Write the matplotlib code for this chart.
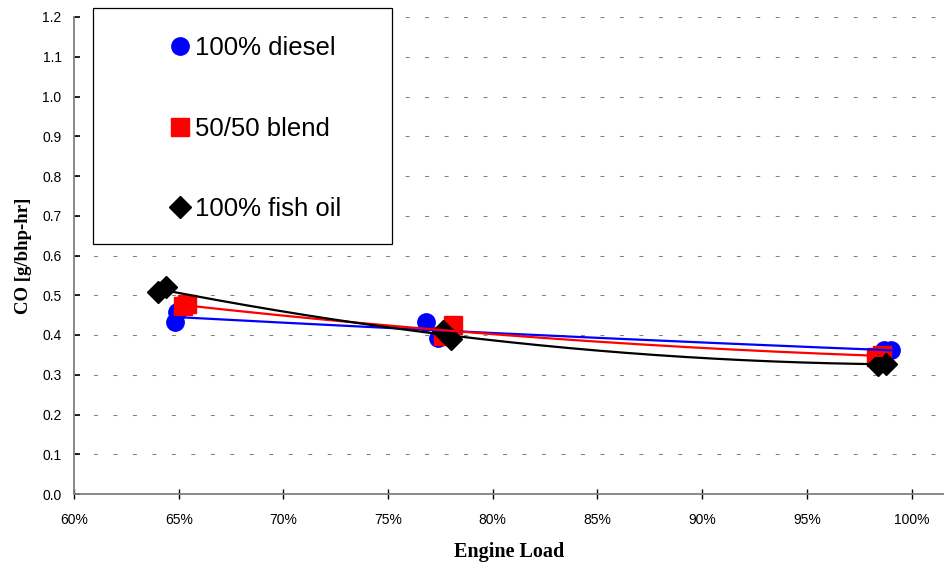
import numpy as np
import matplotlib
matplotlib.use("Agg")
import matplotlib.pyplot as plt
from matplotlib.patches import Rectangle
from matplotlib.ticker import PercentFormatter

# engine load (fraction) and CO emissions [g/bhp-hr]
diesel_load = [0.648, 0.649, 0.768, 0.774, 0.987, 0.990]
diesel_co = [0.432, 0.458, 0.433, 0.392, 0.362, 0.362]

blend_load = [0.652, 0.654, 0.776, 0.781, 0.983, 0.986]
blend_co = [0.472, 0.478, 0.397, 0.425, 0.345, 0.350]

fish_load = [0.640, 0.644, 0.776, 0.780, 0.984, 0.988]
fish_co = [0.508, 0.520, 0.410, 0.390, 0.325, 0.328]

x_ticks = [0.60, 0.65, 0.70, 0.75, 0.80, 0.85, 0.90, 0.95, 1.00]
y_ticks = [0.0, 0.1, 0.2, 0.3, 0.4, 0.5, 0.6, 0.7, 0.8, 0.9, 1.0, 1.1, 1.2]

series = [
    ("100% diesel", diesel_load, diesel_co, "#0000ff", "o", 12.5),
    ("50/50 blend", blend_load, blend_co, "#ff0000", "s", 12.5),
    ("100% fish oil", fish_load, fish_co, "#000000", "D", 11),
]

fig = plt.figure(figsize=(9.45, 5.67), dpi=100)
ax = fig.add_axes([74 / 945, 73 / 567, 870 / 945, 477 / 567])

for name, x, y, color, marker, ms in series:
    ax.plot(x, y, linestyle="none", marker=marker, color=color,
            markersize=ms, label=name, zorder=3)

# 2nd order polynomial trendlines
for name, x, y, color, marker, ms in series:
    coef = np.polyfit(x, y, 2)
    xs = np.linspace(min(x), max(x), 200)
    ax.plot(xs, np.polyval(coef, xs), color=color, linewidth=1.6, zorder=4)

ax.set_xlim(0.60, 1.0155)
ax.set_ylim(0.0, 1.2)
ax.set_xticks(x_ticks)
ax.set_yticks(y_ticks)
ax.xaxis.set_major_formatter(PercentFormatter(1.0, decimals=0))
ax.yaxis.set_major_formatter(plt.FormatStrFormatter("%.1f"))

for y in y_ticks[1:]:
    ax.axhline(y, color="#808080", linewidth=0.75,
               linestyle=(0, (3.8, 14.9)), zorder=1)

for side in ["top", "right"]:
    ax.spines[side].set_visible(False)
for side in ["left", "bottom"]:
    ax.spines[side].set_color("#808080")
    ax.spines[side].set_linewidth(1.3)

ax.tick_params(axis="y", direction="in", length=4, width=1.2, color="#000000",
               labelsize=10, pad=9)
ax.tick_params(axis="x", direction="inout", length=7, width=1.0, color="#000000",
               labelsize=10, pad=10)
for lbl in ax.get_xticklabels() + ax.get_yticklabels():
    lbl.set_fontfamily("Liberation Sans")

ax.set_xlabel("Engine Load", fontfamily="Liberation Serif", fontweight="bold",
              fontsize=14.5, labelpad=11)
ax.set_ylabel("CO [g/bhp-hr]", fontfamily="Liberation Serif", fontweight="bold",
              fontsize=13.5, labelpad=7)

# legend box as drawn in the original
fig.patches.append(Rectangle((93 / 945, (567 - 244) / 567), 299 / 945, 236 / 567,
                             transform=fig.transFigure, facecolor="white",
                             edgecolor="black", linewidth=0.9, zorder=5))
leg = fig.legend(loc="upper left", bbox_to_anchor=(171 / 945, (567 - 36) / 567),
                 frameon=False, borderpad=0, borderaxespad=0, handlelength=0.7,
                 handletextpad=0.25, labelspacing=2.2,
                 prop={"family": "Liberation Sans", "size": 18.5})
leg.set_zorder(6)

fig.savefig("out.png", dpi=100)
